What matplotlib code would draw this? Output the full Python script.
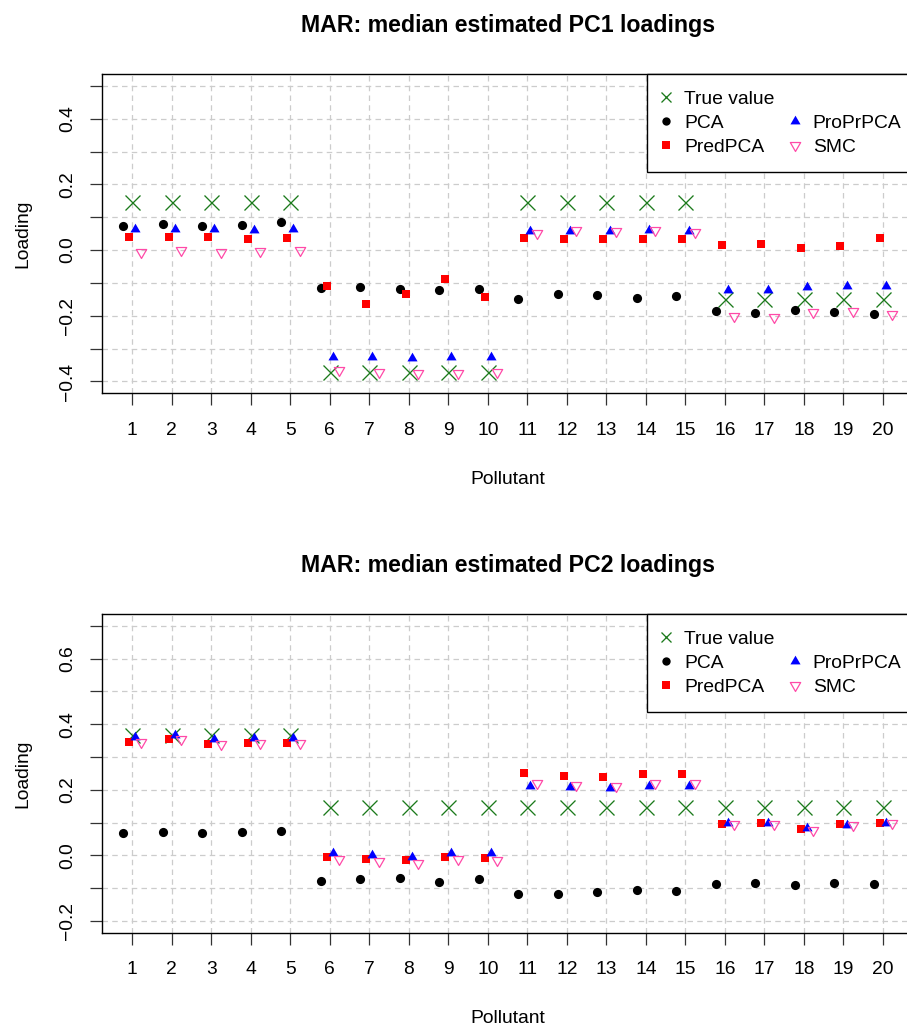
import matplotlib
matplotlib.use("Agg")
import matplotlib.pyplot as plt
import numpy as np
from matplotlib.path import Path
from matplotlib.lines import Line2D

plt.rcParams['font.family'] = ['Liberation Sans', 'DejaVu Sans']

# ---------------- data ----------------
pollutants = list(range(1, 21))

pc1_true = [0.147, 0.147, 0.147, 0.147, 0.147, -0.371, -0.371, -0.371, -0.371, -0.371,
            0.147, 0.147, 0.147, 0.147, 0.147, -0.149, -0.149, -0.149, -0.149, -0.149]
pc1_pca = [0.072, 0.078, 0.072, 0.075, 0.086, -0.114, -0.111, -0.117, -0.123, -0.120,
           -0.148, -0.133, -0.136, -0.145, -0.139, -0.185, -0.191, -0.183, -0.188, -0.194]
pc1_pred = [0.039, 0.039, 0.039, 0.033, 0.036, -0.108, -0.163, -0.134, -0.089, -0.143,
            0.036, 0.033, 0.033, 0.033, 0.033, 0.014, 0.017, 0.005, 0.011, 0.036]
pc1_propr = [0.063, 0.063, 0.063, 0.061, 0.064, -0.324, -0.324, -0.330, -0.325, -0.327,
             0.059, 0.059, 0.058, 0.061, 0.058, -0.121, -0.123, -0.112, -0.109, -0.109]
pc1_smc = [-0.007, 0.000, -0.007, -0.002, 0.000, -0.365, -0.370, -0.375, -0.375, -0.370,
           0.053, 0.061, 0.059, 0.061, 0.054, -0.200, -0.205, -0.189, -0.186, -0.196]

pc2_true = [0.367, 0.367, 0.367, 0.367, 0.367, 0.146, 0.146, 0.146, 0.146, 0.146,
            0.146, 0.146, 0.146, 0.146, 0.146, 0.146, 0.146, 0.146, 0.146, 0.146]
pc2_pca = [0.068, 0.071, 0.068, 0.071, 0.074, -0.079, -0.072, -0.069, -0.082, -0.072,
           -0.118, -0.118, -0.112, -0.107, -0.110, -0.087, -0.084, -0.090, -0.084, -0.087]
pc2_pred = [0.347, 0.356, 0.340, 0.344, 0.344, -0.005, -0.011, -0.014, -0.005, -0.008,
            0.251, 0.242, 0.239, 0.248, 0.248, 0.096, 0.099, 0.080, 0.096, 0.099]
pc2_propr = [0.361, 0.366, 0.356, 0.357, 0.357, 0.006, 0.001, -0.004, 0.007, 0.006,
             0.212, 0.207, 0.204, 0.212, 0.210, 0.098, 0.098, 0.083, 0.093, 0.099]
pc2_smc = [0.347, 0.354, 0.340, 0.342, 0.344, -0.010, -0.016, -0.022, -0.012, -0.014,
           0.221, 0.213, 0.212, 0.221, 0.221, 0.095, 0.096, 0.078, 0.091, 0.099]

series_names = ["True value", "PCA", "PredPCA", "ProPrPCA", "SMC"]
titles = ["MAR: median estimated PC1 loadings", "MAR: median estimated PC2 loadings"]
xlabel = "Pollutant"
ylabel = "Loading"

# ---------------- styles ----------------
W, H = 907, 1027
fig = plt.figure(figsize=(W / 100, H / 100), dpi=100)

def ax_rect(l, t, r, b):
    return [l / W, 1 - b / H, (r - l) / W, (b - t) / H]

up_tri = Path([(0, 1), (0.866, -0.5), (-0.866, -0.5), (0, 1)],
              [Path.MOVETO, Path.LINETO, Path.LINETO, Path.CLOSEPOLY])
down_tri = Path([(0, -1), (0.866, 0.5), (-0.866, 0.5), (0, -1)],
                [Path.MOVETO, Path.LINETO, Path.LINETO, Path.CLOSEPOLY])

GREEN = '#1c7a1c'
PINK = '#ff4aa8'
styles = {
    "True value": dict(marker='x', ms=10.8, mew=0.95, color=GREEN, mfc='none', mec=GREEN),
    "PCA": dict(marker='o', ms=6.6, mew=0, color='black', mfc='black', mec='black'),
    "PredPCA": dict(marker='s', ms=6.4, mew=0, color='red', mfc='red', mec='red'),
    "ProPrPCA": dict(marker=up_tri, ms=8.4, mew=0, color='blue', mfc='blue', mec='blue'),
    "SMC": dict(marker=down_tri, ms=8.6, mew=0.9, color=PINK, mfc='none', mec=PINK),
}
legend_ms = {"True value": 7.4, "PCA": 6.0, "PredPCA": 6.0, "ProPrPCA": 8.4, "SMC": 8.6}
offsets = {"True value": 0.0, "PCA": -0.235, "PredPCA": -0.078, "ProPrPCA": 0.078, "SMC": 0.232}

FS = 13.9
panels = [
    dict(rect=(102.3, 74, 913, 393.3), ylim=(-0.436, 0.536),
         yticks=[-0.4, -0.3, -0.2, -0.1, 0.0, 0.1, 0.2, 0.3, 0.4, 0.5],
         ylabels=["\u22120.4", "", "\u22120.2", "", "0.0", "", "0.2", "", "0.4", ""],
         data=[pc1_true, pc1_pca, pc1_pred, pc1_propr, pc1_smc], title=titles[0]),
    dict(rect=(102.3, 614, 913, 932.7), ylim=(-0.236, 0.736),
         yticks=[-0.2, -0.1, 0.0, 0.1, 0.2, 0.3, 0.4, 0.5, 0.6, 0.7],
         ylabels=["\u22120.2", "", "0.0", "", "0.2", "", "0.4", "", "0.6", ""],
         data=[pc2_true, pc2_pca, pc2_pred, pc2_propr, pc2_smc], title=titles[1]),
]

x = np.array(pollutants, dtype=float)
for p in panels:
    ax = fig.add_axes(ax_rect(*p["rect"]))
    ax.set_xlim(0.24, 20.76)
    ax.set_ylim(*p["ylim"])
    ax.set_xticks(pollutants)
    ax.set_xticklabels([str(v) for v in pollutants])
    ax.set_yticks(p["yticks"])
    ax.set_yticklabels(p["ylabels"])
    ax.set_axisbelow(True)
    ax.grid(True, color='#cccccc', lw=0.9, linestyle=(0, (4.4, 3.4)))
    for sp in ax.spines.values():
        sp.set_color('black')
        sp.set_linewidth(1.0)
    ax.tick_params(axis='both', direction='out', length=8.4, width=0.9,
                   color='#333333', labelsize=FS)
    ax.tick_params(axis='x', pad=12.2)
    ax.tick_params(axis='y', pad=10.2)
    for lab in ax.get_yticklabels():
        lab.set_rotation(90)
        lab.set_va('center')

    for name, vals in zip(series_names, p["data"]):
        st = dict(styles[name])
        ax.plot(x + offsets[name], vals, linestyle='none', zorder=3, **st)

    ax.set_title(p["title"], fontsize=16.7, fontweight='bold', pad=30.2)
    ax.set_xlabel(xlabel, fontsize=FS)
    ax.xaxis.label.set_va('baseline')
    ax.xaxis.set_label_coords(0.5, -90.6 / (p["rect"][3] - p["rect"][1]))
    ax.set_ylabel(ylabel, fontsize=FS)
    ax.yaxis.label.set_va('baseline')
    ax.yaxis.set_label_coords(-(102.3 - 26.9) / (913 - 102.3), 0.5)

    def handle(name):
        st = dict(styles[name])
        st["ms"] = legend_ms[name]
        return Line2D([], [], linestyle='none', **st)

    handles = [handle("True value"), handle("PCA"), handle("PredPCA"),
               Line2D([], [], linestyle='none'), handle("ProPrPCA"), handle("SMC")]
    labels = ["True value", "PCA", "PredPCA", "", "ProPrPCA", "SMC"]
    leg = ax.legend(handles, labels, loc='upper right',
                    bbox_to_anchor=(1 + 5 / (913 - 102.3), 1),
                    ncol=2, fontsize=FS, frameon=True, fancybox=False,
                    borderaxespad=0, borderpad=0.85, handlelength=0.3,
                    handletextpad=0.8, columnspacing=0.88, labelspacing=0.33)
    fr = leg.get_frame()
    fr.set_edgecolor('black')
    fr.set_linewidth(1.0)
    fr.set_alpha(1)
    fr.set_facecolor('white')
    leg.set_zorder(5)

fig.savefig('out.png', dpi=100)
